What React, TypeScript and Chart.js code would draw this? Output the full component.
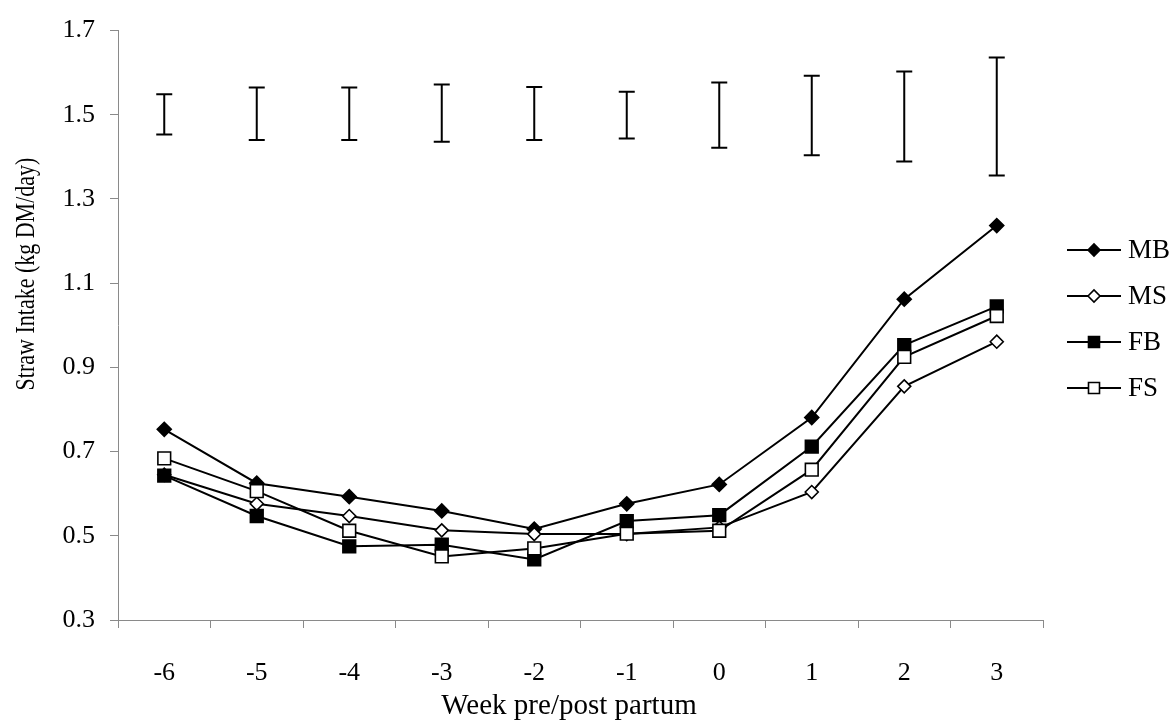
import React, { useEffect, useRef } from "react";
import { Chart, registerables } from "chart.js";

Chart.register(...registerables);

// ---- data ----
const weeks = ["-6", "-5", "-4", "-3", "-2", "-1", "0", "1", "2", "3"];
const mbValues = [0.753, 0.625, 0.593, 0.559, 0.516, 0.576, 0.622, 0.781, 1.062, 1.237];
const msValues = [0.645, 0.576, 0.547, 0.513, 0.504, 0.504, 0.52, 0.604, 0.855, 0.961];
const fbValues = [0.643, 0.547, 0.475, 0.479, 0.444, 0.535, 0.549, 0.712, 0.953, 1.045];
const fsValues = [0.684, 0.606, 0.512, 0.451, 0.47, 0.505, 0.512, 0.657, 0.925, 1.022];
// error bars (SED) drawn near the top of the plot
const errLow = [1.453, 1.44, 1.44, 1.436, 1.44, 1.444, 1.422, 1.404, 1.389, 1.356];
const errHigh = [1.549, 1.565, 1.565, 1.572, 1.566, 1.555, 1.577, 1.593, 1.603, 1.636];
const yTickValues = [0.3, 0.5, 0.7, 0.9, 1.1, 1.3, 1.5, 1.7];
const seriesNames = ["MB", "MS", "FB", "FS"];
const xTitle = "Week pre/post partum";
const yTitle = "Straw Intake (kg DM/day)";

const FONT = "'Liberation Serif', 'Times New Roman', serif";
const AXIS_GRAY = "#8a8a8a";

type MarkerKind = { style: "rectRot" | "rect"; filled: boolean };
const markers: MarkerKind[] = [
  { style: "rectRot", filled: true },
  { style: "rectRot", filled: false },
  { style: "rect", filled: true },
  { style: "rect", filled: false },
];

function drawMarker(ctx: CanvasRenderingContext2D, m: MarkerKind, x: number, y: number, r: number) {
  ctx.beginPath();
  if (m.style === "rectRot") {
    ctx.moveTo(x - r, y);
    ctx.lineTo(x, y - r);
    ctx.lineTo(x + r, y);
    ctx.lineTo(x, y + r);
    ctx.closePath();
  } else {
    ctx.rect(x - r, y - r, 2 * r, 2 * r);
  }
  ctx.fillStyle = m.filled ? "#000" : "#fff";
  ctx.fill();
  ctx.lineWidth = 1.6;
  ctx.strokeStyle = "#000";
  ctx.stroke();
}

const decorPlugin = {
  id: "decor",
  afterDatasetsDraw(chart: any) {
    const ctx: CanvasRenderingContext2D = chart.ctx;
    const xs = chart.scales.x;
    const ys = chart.scales.y;
    ctx.save();
    // error bars
    ctx.strokeStyle = "#000";
    ctx.lineWidth = 2;
    for (let i = 0; i < weeks.length; i++) {
      const x = xs.getPixelForValue(i);
      const y1 = ys.getPixelForValue(errLow[i]);
      const y2 = ys.getPixelForValue(errHigh[i]);
      ctx.beginPath();
      ctx.moveTo(x, y1);
      ctx.lineTo(x, y2);
      ctx.moveTo(x - 8, y1);
      ctx.lineTo(x + 8, y1);
      ctx.moveTo(x - 8, y2);
      ctx.lineTo(x + 8, y2);
      ctx.stroke();
    }
    // legend
    const legX = chart.chartArea.right + 24;
    let legY = 250;
    ctx.font = `27px ${FONT}`;
    ctx.textBaseline = "middle";
    ctx.textAlign = "left";
    seriesNames.forEach((name, i) => {
      ctx.strokeStyle = "#000";
      ctx.lineWidth = 2;
      ctx.beginPath();
      ctx.moveTo(legX, legY);
      ctx.lineTo(legX + 54, legY);
      ctx.stroke();
      drawMarker(ctx, markers[i], legX + 27, legY, markers[i].style === "rect" ? 5.5 : 6);
      ctx.fillStyle = "#000";
      ctx.fillText(name, legX + 61, legY + 1);
      legY += 46;
    });
    // axis titles
    ctx.fillStyle = "#000";
    ctx.textAlign = "center";
    ctx.font = `29px ${FONT}`;
    ctx.fillText(xTitle, 569, 706);
    ctx.save();
    ctx.translate(27, 274);
    ctx.rotate(-Math.PI / 2);
    ctx.scale(1, 1.25);
    ctx.font = `22px ${FONT}`;
    ctx.fillText(yTitle, 0, 0);
    ctx.restore();
    ctx.restore();
  },
};

export default function App() {
  const canvasRef = useRef<HTMLCanvasElement | null>(null);

  useEffect(() => {
    if (!canvasRef.current) return;
    const mk = (label: string, data: number[], i: number, r: number) => ({
      label,
      data,
      borderColor: "#000",
      borderWidth: 2,
      pointStyle: markers[i].style,
      pointRadius: r,
      pointBorderWidth: 1.6,
      pointBackgroundColor: markers[i].filled ? "#000" : "#fff",
      pointBorderColor: "#000",
      tension: 0,
      fill: false,
    });
    const chart = new Chart(canvasRef.current, {
      type: "line",
      data: {
        labels: weeks,
        datasets: [
          mk(seriesNames[3], fsValues, 3, 9),
          mk(seriesNames[2], fbValues, 2, 9),
          mk(seriesNames[1], msValues, 1, 6.5),
          mk(seriesNames[0], mbValues, 0, 7),
        ],
      },
      options: {
        responsive: true,
        maintainAspectRatio: false,
        animation: false,
        layout: { padding: { top: 25, right: 133, left: 0, bottom: 0 } },
        plugins: { legend: { display: false }, tooltip: { enabled: false } },
        scales: {
          x: {
            type: "category",
            offset: true,
            afterFit: (s: any) => {
              s.height = 102;
            },
            grid: {
              offset: true,
              drawOnChartArea: false,
              drawTicks: true,
              tickLength: 8,
              color: AXIS_GRAY,
              lineWidth: 1,
            },
            border: { display: true, color: AXIS_GRAY, width: 1 },
            ticks: {
              color: "#000",
              font: { family: FONT, size: 26 },
              padding: 30,
              maxRotation: 0,
              autoSkip: false,
            },
          },
          y: {
            min: 0.3,
            max: 1.7,
            afterFit: (s: any) => {
              s.width = 118;
            },
            afterBuildTicks: (s: any) => {
              s.ticks = yTickValues.map((v) => ({ value: v }));
            },
            grid: {
              drawOnChartArea: false,
              drawTicks: true,
              tickLength: 8,
              color: AXIS_GRAY,
              lineWidth: 1,
            },
            border: { display: true, color: AXIS_GRAY, width: 1 },
            ticks: {
              color: "#000",
              font: { family: FONT, size: 26 },
              padding: 15,
              callback: (v: any) => Number(v).toFixed(1),
            },
          },
        },
      },
      plugins: [decorPlugin],
    });
    return () => chart.destroy();
  }, []);

  return (
    <div
      style={{
        position: "absolute",
        left: 0,
        top: 0,
        width: 1176,
        height: 722,
        background: "#fff",
      }}
    >
      <canvas ref={canvasRef} />
    </div>
  );
}
